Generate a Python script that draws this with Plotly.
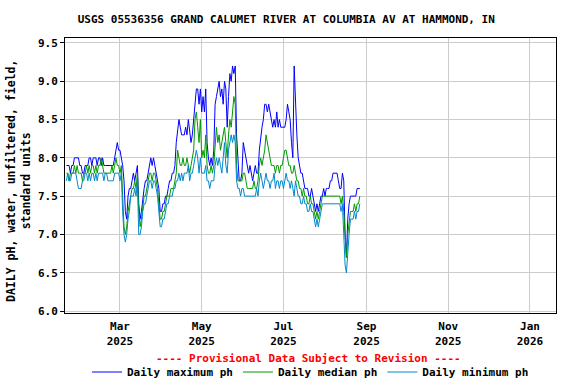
import pandas as pd
import plotly.graph_objects as go

start_date = "2025-01-20"

ph_max = [
    7.9, 7.9, 7.9, 7.8, 7.9, 7.9,
    8.0, 8.0, 8.0, 8.0, 7.9, 7.9,
    7.8, 7.8, 7.9, 7.9, 7.9,
    8.0, 8.0, 7.9, 8.0, 8.0, 8.0, 7.9, 8.0,
    8.0, 7.9, 8.0, 7.9, 7.9,
    7.9, 7.9, 7.9, 7.9, 7.9, 7.9,
    8.0, 8.1, 8.2, 8.1,
    8.1, 8.0, 7.9, 7.7,
    7.3, 7.2, 7.5,
    7.6, 7.6, 7.7,
    7.8, 7.7, 7.8, 7.9,
    7.4, 7.2, 7.3,
    7.5, 7.6, 7.7, 7.7,
    7.8, 7.9, 8.0, 7.9, 8.0, 7.9,
    7.8, 7.7, 7.6,
    7.3, 7.3, 7.4, 7.4,
    7.5, 7.5, 7.6, 7.7, 7.7,
    7.8, 7.8, 7.9, 8.2, 8.4,
    8.5, 8.4, 8.3,
    8.3, 8.3, 8.4, 8.3, 8.5, 8.3, 8.2,
    8.3, 8.5, 8.7,
    8.9, 8.9, 8.7, 8.9, 8.6,
    8.8, 8.6, 8.9,
    8.2, 8.0, 7.9, 8.0, 7.9, 8.1,
    8.7, 8.8, 8.9,
    9.0, 8.8, 8.9, 8.7,
    9.0, 8.9, 8.4, 8.8,
    9.1, 9.0, 9.2, 9.1, 9.2,
    8.3, 7.9, 7.7,
    7.7, 7.8,
    8.2, 8.1, 8.0, 7.9,
    7.8, 7.9, 7.8, 7.7, 7.8, 7.9, 7.8, 7.8,
    8.1, 8.3, 8.4, 8.5,
    8.7, 8.7, 8.6, 8.7, 8.6, 8.5,
    8.4, 8.5, 8.4, 8.6, 8.4, 8.5, 8.4,
    8.4, 8.4, 8.4, 8.5,
    8.7, 8.6, 8.5, 8.2, 8.0,
    9.2, 8.6, 8.3,
    8.0, 7.9, 7.8,
    7.8, 7.7, 7.6,
    7.6, 7.6, 7.5, 7.5, 7.6, 7.5,
    7.4, 7.3, 7.4, 7.3, 7.4,
    7.5, 7.5, 7.6, 7.5, 7.6, 7.6, 7.6,
    7.7, 7.7, 7.8,
    7.8, 7.8, 7.8, 7.7,
    7.6, 7.6,
    7.8, 7.7,
    7.0, 6.7,
    7.2, 7.4, 7.5,
    7.5, 7.5, 7.5,
    7.5, 7.6, 7.6, 7.6,
]

ph_median = [
    7.8, 7.8, 7.7, 7.8, 7.8, 7.8,
    7.9, 7.8, 7.9, 7.8, 7.8, 7.8,
    7.7, 7.8, 7.8, 7.9, 7.8,
    7.9, 7.8, 7.9, 7.9, 7.8, 7.9, 7.8, 7.9,
    7.9, 8.0, 7.9, 7.8, 7.8,
    7.8, 7.8, 7.8, 7.8, 7.9, 7.8,
    7.9, 8.0, 7.9, 7.9,
    7.8, 7.9, 7.5, 7.1,
    7.0, 7.1, 7.3,
    7.4, 7.5, 7.6,
    7.6, 7.7, 7.6, 7.8,
    7.3, 7.1, 7.2,
    7.4, 7.5, 7.5, 7.6,
    7.7, 7.8, 7.8, 7.7, 7.8, 7.8,
    7.7, 7.6, 7.4,
    7.2, 7.2, 7.3, 7.3,
    7.4, 7.5, 7.5, 7.5, 7.6,
    7.6, 7.6, 7.7, 7.8, 8.1,
    8.0, 7.9, 7.9,
    8.0, 7.9, 7.9, 8.0, 7.9, 7.8, 7.9,
    8.0, 8.1, 8.5,
    8.6, 8.4, 8.2, 8.5, 8.0,
    8.1, 8.0, 8.3,
    7.9, 7.8, 7.8, 7.9, 7.8, 7.9,
    8.1, 8.4, 8.2,
    8.3, 8.1, 8.2, 8.3,
    8.4, 8.2, 8.0, 8.3,
    8.5, 8.4, 8.6, 8.8, 8.7,
    7.9, 7.7, 7.7,
    7.7, 7.7,
    7.8, 7.8, 7.7, 7.6,
    7.6, 7.6, 7.6, 7.6, 7.7, 7.6, 7.6, 7.7,
    7.9, 8.0, 7.9, 8.0,
    8.1, 8.3, 8.2, 8.1, 8.0, 7.9,
    7.9, 7.9, 7.8, 7.9, 7.9, 7.8, 7.9,
    7.9, 8.0, 8.1, 8.1,
    8.0, 7.9, 7.9, 7.8, 7.8,
    7.9, 7.8, 7.7,
    7.7, 7.6, 7.6,
    7.5, 7.6, 7.5,
    7.5, 7.4, 7.4, 7.5, 7.4, 7.4,
    7.3, 7.2, 7.3, 7.2, 7.3,
    7.4, 7.5, 7.5, 7.5, 7.5, 7.5, 7.5,
    7.5, 7.5, 7.5,
    7.5, 7.5, 7.5, 7.5,
    7.5, 7.4,
    7.5, 7.3,
    6.9, 6.7,
    7.0, 7.2, 7.3,
    7.3, 7.3, 7.4,
    7.3, 7.4, 7.4, 7.5,
]

ph_min = [
    7.7, 7.8, 7.7, 7.7, 7.8, 7.8,
    7.8, 7.8, 7.7, 7.6, 7.6, 7.6,
    7.7, 7.7, 7.8, 7.8, 7.7,
    7.8, 7.7, 7.8, 7.8, 7.7, 7.8, 7.7, 7.8,
    7.8, 7.8, 7.8, 7.7, 7.8,
    7.8, 7.7, 7.7, 7.7, 7.7, 7.7,
    7.8, 7.8, 7.8, 7.8,
    7.7, 7.8, 7.3, 7.0,
    6.9, 7.0, 7.2,
    7.3, 7.5, 7.5,
    7.5, 7.6, 7.5, 7.7,
    7.0, 7.0, 7.1,
    7.3, 7.4, 7.4, 7.5,
    7.6, 7.7, 7.7, 7.6, 7.7, 7.7,
    7.6, 7.5, 7.3,
    7.1, 7.1, 7.2, 7.2,
    7.3, 7.4, 7.4, 7.5, 7.5,
    7.5, 7.6, 7.6, 7.7, 7.7,
    7.8, 7.7, 7.8,
    7.7, 7.8, 7.8, 7.8, 7.9, 7.7, 7.8,
    7.8, 7.9, 8.0,
    8.1, 8.0, 7.8, 8.0, 7.8,
    7.8, 7.8, 7.9,
    7.7, 7.7, 7.6, 7.7, 7.7, 7.7,
    7.9, 8.0, 7.9,
    8.0, 7.9, 7.8, 8.0,
    8.2, 7.9, 7.8, 8.1,
    8.2, 8.3, 8.2, 8.3, 8.2,
    7.7, 7.6, 7.6,
    7.5, 7.6,
    7.6, 7.5, 7.5, 7.5,
    7.5, 7.5, 7.5, 7.5, 7.5, 7.5, 7.6, 7.5,
    7.7, 7.8, 7.7, 7.6,
    7.7, 7.8, 7.7, 7.7, 7.6, 7.7,
    7.7, 7.8, 7.6, 7.7, 7.7, 7.6, 7.7,
    7.7, 7.6, 7.7, 7.8,
    7.7, 7.7, 7.6, 7.7, 7.6,
    7.5, 7.7, 7.6,
    7.5, 7.5, 7.4,
    7.4, 7.5, 7.4,
    7.4, 7.3, 7.3, 7.4, 7.3, 7.3,
    7.2, 7.1, 7.2, 7.1, 7.2,
    7.3, 7.4, 7.4, 7.4, 7.4, 7.4, 7.4,
    7.4, 7.4, 7.4,
    7.4, 7.4, 7.4, 7.4,
    7.4, 7.3,
    7.4, 7.0,
    6.6, 6.5,
    6.8, 7.0, 7.2,
    7.2, 7.2, 7.3,
    7.2, 7.3, 7.3, 7.4,
]

series_names = ["Daily maximum ph", "Daily median ph", "Daily minimum ph"]
series_values = [ph_max, ph_median, ph_min]
series_colors = ["#0000ff", "#009900", "#0088cc"]

tick_dates = ["2025-03-01", "2025-05-01", "2025-07-01", "2025-09-01", "2025-11-01", "2026-01-01"]
tick_labels = ["Mar<br>2025", "May<br>2025", "Jul<br>2025", "Sep<br>2025", "Nov<br>2025", "Jan<br>2026"]
y_ticks = [6.0, 6.5, 7.0, 7.5, 8.0, 8.5, 9.0, 9.5]

FONT = "DejaVu Sans Mono"

fig = go.Figure()
for name, vals, col in zip(series_names, series_values, series_colors):
    dates = pd.date_range(start_date, periods=len(vals), freq="D")
    fig.add_trace(go.Scatter(x=dates, y=vals, mode="lines", name=name,
                             line=dict(color=col, width=1)))

fig.update_layout(
    width=576, height=384,
    margin=dict(l=65, r=20, t=38, b=71, autoexpand=False),
    paper_bgcolor="white", plot_bgcolor="white",
    font=dict(family=FONT, size=11, color="black", weight="bold"),
    title=dict(text="USGS 05536356 GRAND CALUMET RIVER AT COLUMBIA AV AT HAMMOND, IN",
               x=0.497, xanchor="center", y=1 - 19 / 384, yanchor="middle",
               font=dict(family=FONT, size=11, color="black", weight="bold")),
    showlegend=True,
    legend=dict(orientation="h", x=0.5, xanchor="center",
                yref="container", y=1 - 372 / 384, yanchor="middle",
                font=dict(family=FONT, size=11, color="black", weight="bold"),
                itemwidth=30, bgcolor="rgba(0,0,0,0)", tracegroupgap=0),
)
fig.update_xaxes(
    range=["2025-01-18 23:00", "2026-01-20 10:00"],
    tickvals=tick_dates, ticktext=tick_labels,
    showgrid=True, gridcolor="#cccccc", gridwidth=1,
    showline=True, mirror=True, linecolor="black", linewidth=1,
    ticks="outside", ticklen=3, tickcolor="rgba(0,0,0,0)",
    zeroline=False, automargin=False,
    tickfont=dict(family=FONT, size=11, color="black", weight="bold"),
)
fig.update_yaxes(
    range=[5.974, 9.565],
    tickvals=y_ticks, tickformat=".1f",
    showgrid=True, gridcolor="#cccccc", gridwidth=1,
    showline=True, mirror=True, linecolor="black", linewidth=1,
    ticks="outside", ticklen=4, tickcolor="black", zeroline=False, automargin=False,
    tickfont=dict(family=FONT, size=11, color="black", weight="bold"),
)
fig.add_annotation(
    text="DAILY pH, water, unfiltered, field,<br>standard units",
    xref="paper", yref="paper", x=(18 - 65) / 491, y=(313 - 181) / 275,
    xanchor="center", yanchor="middle", textangle=-90, showarrow=False,
    font=dict(family=FONT, size=11.5, color="black", weight="bold"),
)
fig.add_annotation(
    text="---- Provisional Data Subject to Revision ----",
    xref="paper", yref="paper", x=(308 - 65) / 491, y=(313 - 358) / 275,
    xanchor="center", yanchor="middle", showarrow=False,
    font=dict(family=FONT, size=11, color="red", weight="bold"),
)
fig.write_html("out.html")
